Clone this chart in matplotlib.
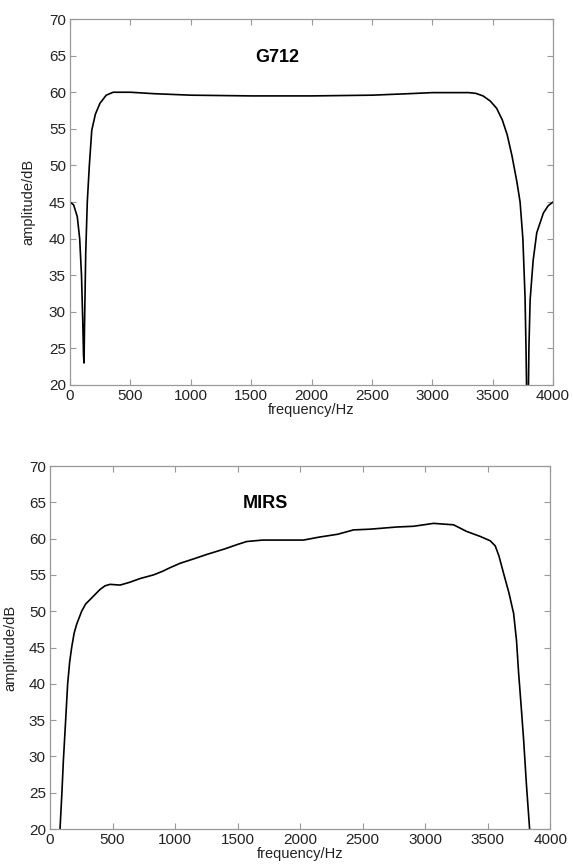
import matplotlib
matplotlib.use("Agg")
import matplotlib.pyplot as plt

plt.rcParams['font.family'] = ['Liberation Sans', 'DejaVu Sans']

# G712 response (Hz, dB)
g712_freq = [0, 30, 60, 80, 95, 105, 112, 116, 120, 130, 143, 160, 180, 210, 248,
             300, 357, 500, 700, 1000, 1500, 2000, 2500, 2800, 3000, 3300, 3360,
             3420, 3480, 3533, 3580, 3620, 3660, 3700, 3727, 3750, 3768, 3776,
             3785, 3795, 3800, 3810, 3835, 3865, 3920, 3960, 4000]
g712_db = [45.0, 44.6, 43.0, 40.0, 35.0, 29.0, 24.0, 23.0, 28.0, 38.0, 45.0, 50.0,
           54.8, 57.0, 58.5, 59.6, 60.0, 60.0, 59.8, 59.6, 59.5, 59.5, 59.6, 59.8,
           59.95, 59.95, 59.85, 59.5, 58.8, 57.8, 56.2, 54.2, 51.3, 47.8, 45.0,
           40.0, 32.0, 25.0, 15.0, 18.0, 25.0, 31.6, 37.0, 40.8, 43.5, 44.5, 45.0]

# MIRS response (Hz, dB)
mirs_freq = [80, 95, 107, 125, 141, 157, 173, 193, 213, 253, 285, 320, 360, 400,
             440, 480, 560, 640, 720, 827, 900, 960, 1040, 1147, 1250, 1400, 1500,
             1573, 1700, 1850, 2027, 2150, 2300, 2427, 2560, 2773, 2907, 3067,
             3227, 3330, 3440, 3520, 3560, 3590, 3627, 3670, 3707, 3730, 3747,
             3767, 3787, 3810, 3835]
mirs_db = [20.0, 25.0, 29.5, 35.0, 40.0, 43.0, 45.0, 47.0, 48.2, 50.0, 51.0, 51.6,
           52.3, 53.0, 53.5, 53.7, 53.6, 54.0, 54.5, 55.0, 55.5, 56.0, 56.6, 57.2,
           57.8, 58.6, 59.2, 59.6, 59.8, 59.8, 59.8, 60.2, 60.6, 61.2, 61.3, 61.6,
           61.7, 62.1, 61.9, 61.0, 60.3, 59.7, 59.0, 57.6, 55.2, 52.5, 49.7, 46.0,
           41.5, 37.0, 32.3, 26.0, 20.0]

x_ticks = list(range(0, 4001, 500))
y_ticks = list(range(20, 71, 5))


def style_axes(ax, title, title_x, title_y, ylabel_x):
    ax.set_xlim(0, 4000)
    ax.set_ylim(20, 70)
    ax.set_xticks(x_ticks)
    ax.set_yticks(y_ticks)
    ax.tick_params(direction='in', length=4, color='#999999', top=True, right=True,
                   labelsize=11, pad=3, labelcolor='#222222')
    for s in ax.spines.values():
        s.set_color('#999999')
        s.set_linewidth(0.9)
    ax.set_xlabel("frequency/Hz", fontsize=10.5, labelpad=0, color='#222222')
    ax.set_ylabel("amplitude/dB", fontsize=10.5, labelpad=1, color='#222222')
    ax.yaxis.set_label_coords(ylabel_x, 0.5)
    ax.text(title_x, title_y, title, fontsize=13, fontweight='bold',
            ha='center', va='center')


fig = plt.figure(figsize=(5.73, 8.67), dpi=100)

ax1 = fig.add_axes([0.1222, 0.556, 0.843, 0.422])
ax1.plot(g712_freq, g712_db, color='black', lw=1.2)
style_axes(ax1, "G712", 1712, 64.8, -0.072)

ax2 = fig.add_axes([0.0873, 0.0438, 0.873, 0.4187])
ax2.plot(mirs_freq, mirs_db, color='black', lw=1.2)
style_axes(ax2, "MIRS", 1720, 64.8, -0.066)

fig.savefig("out.png", dpi=100)
